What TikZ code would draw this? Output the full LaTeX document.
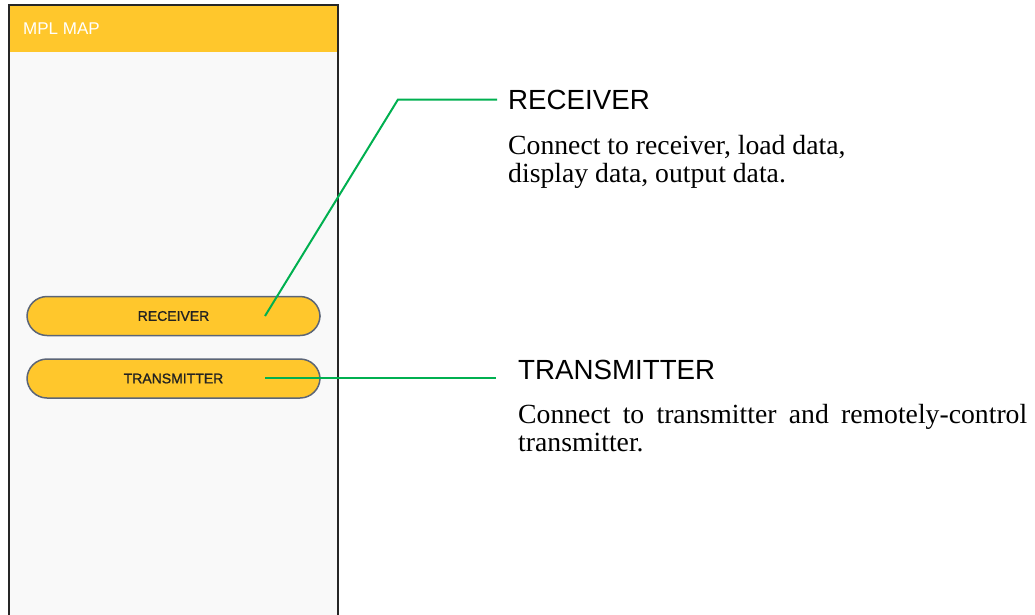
\documentclass[tikz,border=0pt]{standalone}
\usepackage{fontspec}
\setmainfont{Liberation Serif}
\newfontfamily\arialf{Liberation Sans}
\newfontfamily\arialmed[FakeBold=1]{Liberation Sans}
\definecolor{appyellow}{HTML}{FFC72C}
\definecolor{appbg}{HTML}{F9F9F9}
\definecolor{btnborder}{HTML}{5B6577}
\definecolor{callgreen}{HTML}{00B050}
\definecolor{btntext}{HTML}{222222}
\begin{document}
\begin{tikzpicture}[x=1pt,y=-1pt,
  btn/.style={draw=btnborder,line width=1.5pt,fill=appyellow,rounded corners=20pt,minimum width=293pt,minimum height=39pt,inner sep=0pt,font=\arialmed\fontsize{14}{16}\selectfont,text=btntext},
  title/.style={anchor=base west,inner sep=0pt,font=\arialf\fontsize{27.7}{30}\selectfont},
  body/.style={anchor=base west,inner sep=0pt,font=\fontsize{27.7}{28}\selectfont},
  callout/.style={draw=callgreen,line width=2pt}]
\useasboundingbox (0,0) rectangle (1035,614);
\fill[white] (0,0) rectangle (1035,614);
% phone frame
\fill[appbg] (9,5) rectangle (338,620);
\fill[appyellow] (9,5) rectangle (338,52);
\draw[line width=2.5pt,black!85] (9,620) -- (9,5) -- (338,5) -- (338,620);
\node[anchor=base west,inner sep=0pt,text=white,font=\arialf\fontsize{17}{19}\selectfont] (apptitle) at (23,34.5) {MPL MAP};
% buttons
\node[btn] (rbtn) at (173.5,316) {RECEIVER};
\node[btn] (tbtn) at (173.5,378.5) {TRANSMITTER};
% labels
\node[title] (rtitle) at (508,109) {RECEIVER};
\node[body] (rbody1) at (508,154) {Connect to receiver, load data,};
\node[body] (rbody2) at (508,182) {display data, output data.};
\node[title] (ttitle) at (518,379) {TRANSMITTER};
\node[body] (tbody1) at (518,423) {\makebox[509pt][s]{Connect to transmitter and remotely-control}};
\node[body] (tbody2) at (518,451) {transmitter.};
% callouts
\coordinate (rpt) at (265,316);
\coordinate (rbend) at (398,99.5);
\coordinate (rend) at (497,99.5);
\coordinate (tpt) at (265,378);
\coordinate (tend) at (496,378);
\draw[callout] (rpt) -- (rbend) -- (rend);
\draw[callout] (tpt) -- (tend);
\end{tikzpicture}
\end{document}
